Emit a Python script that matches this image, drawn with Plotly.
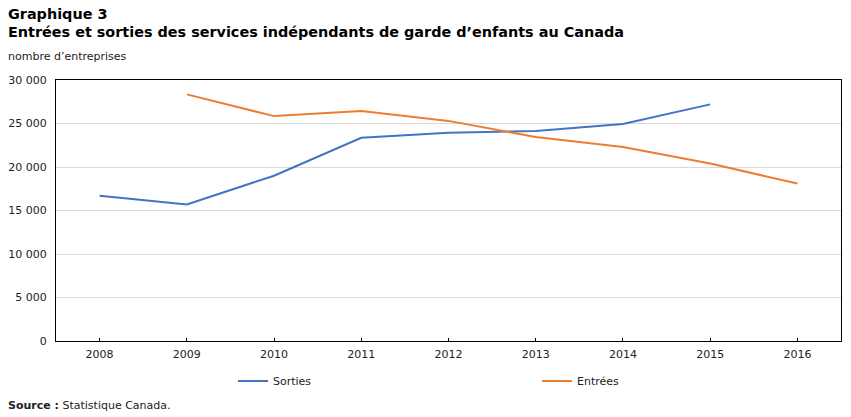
import plotly.graph_objects as go

years = [2008, 2009, 2010, 2011, 2012, 2013, 2014, 2015, 2016]
sorties_years = [2008, 2009, 2010, 2011, 2012, 2013, 2014, 2015]
sorties = [16700, 15700, 19000, 23350, 23950, 24150, 24950, 27200]
entrees_years = [2009, 2010, 2011, 2012, 2013, 2014, 2015, 2016]
entrees = [28350, 25850, 26450, 25300, 23450, 22300, 20400, 18100]
y_ticks = [0, 5000, 10000, 15000, 20000, 25000, 30000]
y_labels = ["0", "5 000", "10 000", "15 000", "20 000", "25 000", "30 000"]

FONT = "DejaVu Sans"
W, H = 851, 417
L, R, T, B = 56, 10, 80, 76
pw = W - L - R
ph = H - T - B


def px_x(x):
    return (x - L) / pw


def px_y(y):
    return (H - B - y) / ph


fig = go.Figure()
fig.add_trace(go.Scatter(x=sorties_years, y=sorties, mode="lines", name="Sorties",
                         line=dict(color="#4472C4", width=2)))
fig.add_trace(go.Scatter(x=entrees_years, y=entrees, mode="lines", name="Entrées",
                         line=dict(color="#ED7D31", width=2)))

fig.update_layout(
    width=W, height=H,
    margin=dict(l=L, r=R, t=T, b=B, autoexpand=False),
    paper_bgcolor="white", plot_bgcolor="white",
    font=dict(family=FONT, size=11, color="#222"),
    showlegend=True,
    legend=dict(orientation="h", x=px_x(233), xanchor="left",
                y=px_y(381), yanchor="middle",
                entrywidth=259, entrywidthmode="pixels", itemwidth=30,
                font=dict(family=FONT, size=11, color="#222"),
                bgcolor="rgba(0,0,0,0)"),
    xaxis=dict(range=[2007.5, 2016.5], tickvals=years, ticktext=[str(y) for y in years],
               ticks="inside", ticklen=3, tickcolor="#000", showgrid=False,
               showline=True, linecolor="#000", linewidth=1, mirror=True,
               zeroline=False, ticklabelstandoff=3, tickfont=dict(size=11, color="#222")),
    yaxis=dict(range=[0, 30000], tickvals=y_ticks, ticktext=y_labels,
               showgrid=True, gridcolor="#d9d9d9", gridwidth=1,
               showline=True, linecolor="#000", linewidth=1, mirror=True,
               zeroline=False, ticks="", ticklabelstandoff=6,
               tickfont=dict(size=11, color="#222")),
    annotations=[
        dict(text="<b>Graphique 3</b>", x=px_x(6), y=px_y(14), xref="paper", yref="paper",
             showarrow=False, xanchor="left", yanchor="middle",
             font=dict(family=FONT, size=14.4, color="#000")),
        dict(text="<b>Entrées et sorties des services indépendants de garde d’enfants au Canada</b>",
             x=px_x(6), y=px_y(32), xref="paper", yref="paper", showarrow=False,
             xanchor="left", yanchor="middle", font=dict(family=FONT, size=14.4, color="#000")),
        dict(text="nombre d’entreprises", x=px_x(6), y=px_y(57), xref="paper", yref="paper",
             showarrow=False, xanchor="left", yanchor="middle",
             font=dict(family=FONT, size=11, color="#222")),
        dict(text="<b>Source :</b> Statistique Canada.", x=px_x(6), y=px_y(405),
             xref="paper", yref="paper",
             showarrow=False, xanchor="left", yanchor="middle",
             font=dict(family=FONT, size=11, color="#222")),
    ],
)

fig.write_html("out.html")
